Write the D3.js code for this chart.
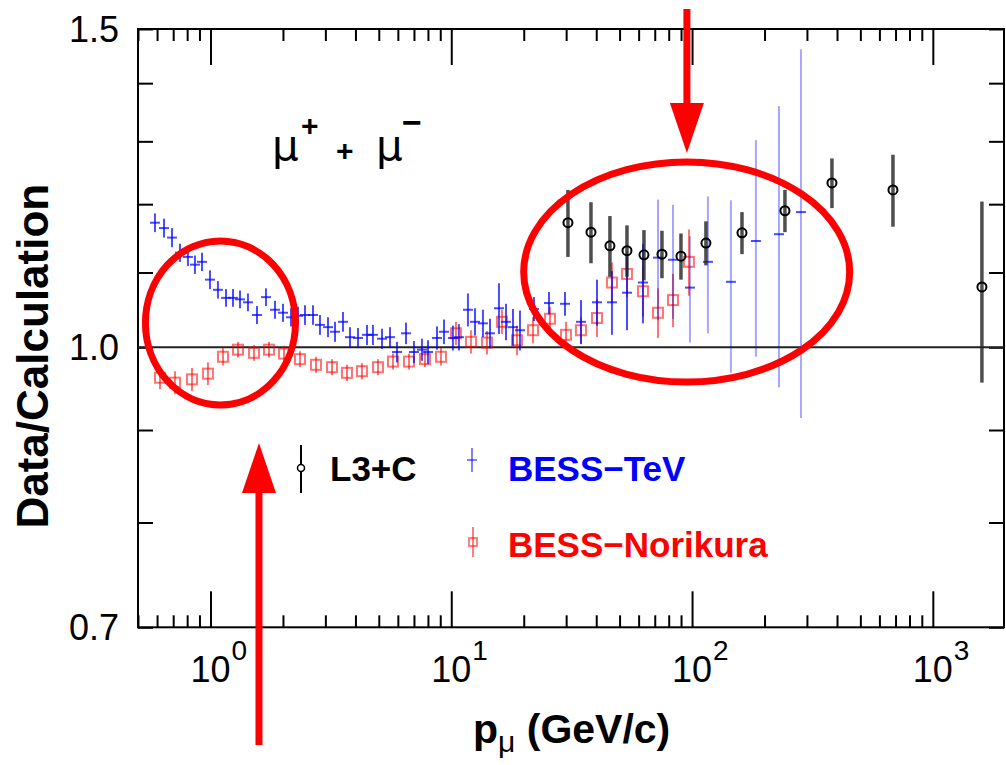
<!DOCTYPE html>
<html>
<head>
<meta charset="utf-8">
<script src="https://cdn.jsdelivr.net/npm/d3@7"></script>
<style>
  body { margin: 0; background: #fff; }
  svg { display: block; font-family: "Liberation Sans", Arial, Helvetica, sans-serif; }
</style>
</head>
<body>
<svg id="chart" width="1006" height="765"></svg>
<script>
// BESS-TeV (momentum GeV/c, ratio, error)
const bessTevP = [0.588, 0.641, 0.692, 0.747, 0.806, 0.862, 0.922, 0.995, 1.074, 1.160, 1.240, 1.326, 1.431, 1.560, 1.700, 1.853, 2.001, 2.160, 2.309, 2.469, 2.665, 2.849, 3.076, 3.289, 3.550, 3.796, 4.098, 4.467, 4.729, 5.155, 5.567, 5.951, 6.485, 7.000, 7.556, 8.004, 8.725, 9.327, 10.16, 10.76, 11.73, 12.55, 13.54, 14.48, 15.78, 16.88, 18.05, 19.29, 22.06, 25.46, 29.67, 34.57, 40.29, 46.49, 53.67, 62.54, 72.19, 83.33, 98.0, 116.4, 145.0, 184.2, 229.6, 283.3];
const bessTevR = [1.172, 1.164, 1.150, 1.128, 1.122, 1.111, 1.115, 1.090, 1.076, 1.065, 1.065, 1.063, 1.059, 1.042, 1.066, 1.049, 1.045, 1.039, 1.041, 1.042, 1.042, 1.029, 1.026, 1.020, 1.033, 1.013, 1.012, 1.016, 1.016, 1.011, 1.013, 0.994, 1.018, 0.994, 0.997, 0.994, 1.012, 1.020, 1.012, 1.013, 1.049, 1.033, 1.031, 1.018, 1.051, 1.033, 1.026, 1.022, 1.050, 1.058, 1.057, 1.033, 1.059, 1.059, 1.072, 1.086, 1.121, 1.118, 1.079, 1.115, 1.087, 1.145, 1.155, 1.188];
const bessTevE = [0.014, 0.014, 0.014, 0.013, 0.013, 0.013, 0.013, 0.013, 0.012, 0.012, 0.012, 0.012, 0.012, 0.012, 0.012, 0.012, 0.012, 0.012, 0.012, 0.013, 0.013, 0.013, 0.013, 0.013, 0.013, 0.013, 0.013, 0.013, 0.013, 0.013, 0.013, 0.013, 0.014, 0.014, 0.014, 0.015, 0.015, 0.016, 0.016, 0.017, 0.022, 0.018, 0.018, 0.019, 0.034, 0.024, 0.024, 0.026, 0.016, 0.015, 0.016, 0.029, 0.031, 0.043, 0.050, 0.055, 0.086, 0.081, 0.073, 0.097, 0.119, 0.157, 0.205, 0.274];

// BESS-Norikura
const bessNoriP = [0.617, 0.712, 0.838, 0.976, 1.127, 1.301, 1.516, 1.750, 2.020, 2.354, 2.743, 3.196, 3.689, 4.257, 4.962, 5.727, 6.674, 7.779, 9.063, 10.46, 12.07, 14.07, 16.24, 18.75, 21.85, 25.70, 29.95, 34.56, 40.29, 46.49, 53.67, 62.54, 72.19, 83.33, 97.07];
const bessNoriR = [0.962, 0.956, 0.960, 0.967, 0.988, 0.997, 0.993, 0.997, 0.992, 0.985, 0.978, 0.975, 0.968, 0.970, 0.975, 0.982, 0.982, 0.985, 0.988, 1.018, 1.007, 1.006, 1.033, 1.009, 1.022, 1.037, 1.016, 1.022, 1.038, 1.086, 1.098, 1.074, 1.045, 1.062, 1.115];
const bessNoriE = [0.014, 0.014, 0.014, 0.014, 0.011, 0.010, 0.010, 0.010, 0.010, 0.010, 0.010, 0.010, 0.010, 0.010, 0.010, 0.010, 0.010, 0.010, 0.011, 0.015, 0.015, 0.015, 0.016, 0.019, 0.017, 0.016, 0.017, 0.017, 0.025, 0.028, 0.032, 0.034, 0.033, 0.036, 0.047];

// L3+C
const l3cP = [30.52, 38.04, 45.60, 53.67, 63.14, 74.99, 89.94, 114.2, 161.2, 243.1, 381.1, 683.0, 1599];
const l3cR = [1.172, 1.158, 1.138, 1.131, 1.125, 1.126, 1.123, 1.142, 1.157, 1.190, 1.233, 1.222, 1.080];
const l3cE = [0.050, 0.045, 0.044, 0.037, 0.036, 0.034, 0.033, 0.032, 0.031, 0.032, 0.039, 0.056, 0.124];

const yTicks = [0.7, 0.8, 0.9, 1.0, 1.1, 1.2, 1.3, 1.4, 1.5];
const yTickLabels = ["0.7", "1.0", "1.5"];
const xDecades = [1, 10, 100, 1000];
const xDecadeExp = ["0", "1", "2", "3"];

const legendNames = ["L3+C", "BESS\u2212TeV", "BESS\u2212Norikura"];

const svg = d3.select("#chart");
const margin = {left: 138, right: 1004, top: 29, bottom: 627.3};

const x = d3.scaleLog().domain([0.5, 1975]).range([margin.left, margin.right]);
const y = d3.scaleLog().domain([0.7, 1.5]).range([margin.bottom, margin.top]);

const blue = "#0000ff", red = "#ff0000";

// minor ticks on x
const xMinor = [];
[0.1, 1, 10, 100, 1000].forEach(d => {
  for (let k = 2; k <= 9; k++) {
    const v = d * k;
    if (v >= 0.5 && v <= 1975) xMinor.push(v);
  }
});

// axes (ticks pointing inward, on all four sides)
function styleAxis(g) {
  g.select(".domain").remove();
  g.selectAll(".tick line").attr("stroke", "#000").attr("stroke-width", 2);
}
svg.append("g").attr("transform", `translate(0,${margin.bottom})`)
  .call(d3.axisBottom(x).tickValues(xMinor).tickSize(-12).tickFormat("")).call(styleAxis);
svg.append("g").attr("transform", `translate(0,${margin.bottom})`)
  .call(d3.axisBottom(x).tickValues(xDecades).tickSize(-36).tickFormat("")).call(styleAxis);
svg.append("g").attr("transform", `translate(0,${margin.top})`)
  .call(d3.axisTop(x).tickValues(xMinor).tickSize(-12).tickFormat("")).call(styleAxis);
svg.append("g").attr("transform", `translate(0,${margin.top})`)
  .call(d3.axisTop(x).tickValues(xDecades).tickSize(-36).tickFormat("")).call(styleAxis);
svg.append("g").attr("transform", `translate(${margin.left},0)`)
  .call(d3.axisLeft(y).tickValues(yTicks).tickSize(-15).tickFormat("")).call(styleAxis);
svg.append("g").attr("transform", `translate(${margin.right},0)`)
  .call(d3.axisRight(y).tickValues(yTicks).tickSize(-15).tickFormat("")).call(styleAxis);

// frame
svg.append("rect")
  .attr("x", margin.left).attr("y", margin.top)
  .attr("width", margin.right - margin.left).attr("height", margin.bottom - margin.top)
  .attr("fill", "none").attr("stroke", "#000").attr("stroke-width", 2);

// reference line at 1
svg.append("line")
  .attr("x1", margin.left).attr("x2", margin.right)
  .attr("y1", y(1)).attr("y2", y(1))
  .attr("stroke", "#222").attr("stroke-width", 2);

// tick labels
svg.append("g").selectAll("text")
  .data(yTickLabels)
  .join("text")
    .attr("x", margin.left - 19)
    .attr("y", d => y(+d) + 13)
    .attr("text-anchor", "end")
    .attr("font-size", 36)
    .text(d => d);

const xl = svg.append("g").selectAll("g")
  .data(xDecades)
  .join("g")
    .attr("transform", d => `translate(${x(d)},${margin.bottom + 55})`);
xl.append("text")
  .attr("text-anchor", "middle")
  .attr("font-size", 36)
  .text("10");
xl.append("text")
  .attr("x", 21)
  .attr("y", -22)
  .attr("font-size", 28)
  .text((d, i) => xDecadeExp[i]);

// axis titles
svg.append("text")
  .attr("transform", `translate(48,${(margin.top + margin.bottom) / 2 + 28}) rotate(-90)`)
  .attr("text-anchor", "middle")
  .attr("font-size", 44)
  .attr("font-weight", "bold")
  .text("Data/Calculation");

const xt = svg.append("text")
  .attr("x", 473).attr("y", 743)
  .attr("font-size", 41)
  .attr("font-weight", "bold");
xt.append("tspan").text("p");
xt.append("tspan").attr("dy", 9).attr("font-size", 30).attr("font-weight", "normal").text("\u03bc");
xt.append("tspan").attr("dy", -9).text(" (GeV/c)");

// BESS-Norikura (red open squares)
const nori = bessNoriP.map((p, i) => ({p, r: bessNoriR[i], e: bessNoriE[i]}));
const gN = svg.append("g").attr("stroke", red).attr("stroke-opacity", 0.55).attr("fill", "none").attr("stroke-width", 2);
gN.selectAll("line").data(nori).join("line")
  .attr("x1", d => x(d.p)).attr("x2", d => x(d.p))
  .attr("y1", d => y(d.r + d.e)).attr("y2", d => y(d.r - d.e));
gN.selectAll("rect").data(nori).join("rect")
  .attr("x", d => x(d.p) - 5).attr("y", d => y(d.r) - 5)
  .attr("width", 10).attr("height", 10);

// BESS-TeV (blue crosses)
const tev = bessTevP.map((p, i) => ({p, r: bessTevR[i], e: bessTevE[i]}));
const gT = svg.append("g").attr("stroke", blue).attr("stroke-width", 2);
gT.selectAll("line.v").data(tev).join("line").attr("class", "v")
  .attr("stroke-opacity", d => d.e > 0.06 ? 0.35 : 0.7)
  .attr("x1", d => x(d.p)).attr("x2", d => x(d.p))
  .attr("y1", d => y(d.r + d.e)).attr("y2", d => y(d.r - d.e));
gT.selectAll("line.h").data(tev).join("line").attr("class", "h")
  .attr("stroke-opacity", 0.7)
  .attr("x1", d => x(d.p) - 5).attr("x2", d => x(d.p) + 5)
  .attr("y1", d => y(d.r)).attr("y2", d => y(d.r));

// L3+C (black open circles)
const l3c = l3cP.map((p, i) => ({p, r: l3cR[i], e: l3cE[i]}));
const gL = svg.append("g");
gL.selectAll("line").data(l3c).join("line")
  .attr("stroke", "#222").attr("stroke-opacity", 0.8).attr("stroke-width", 3.5)
  .attr("x1", d => x(d.p)).attr("x2", d => x(d.p))
  .attr("y1", d => y(d.r + d.e)).attr("y2", d => y(d.r - d.e));
gL.selectAll("circle").data(l3c).join("circle")
  .attr("cx", d => x(d.p)).attr("cy", d => y(d.r)).attr("r", 4.5)
  .attr("fill", "none").attr("stroke", "#000").attr("stroke-width", 2);

// mu+ + mu- label
const mu = svg.append("g").attr("fill", "#000");
mu.append("text").attr("x", 272).attr("y", 160).attr("font-size", 42).attr("font-family", "DejaVu Sans").text("\u03bc");
mu.append("text").attr("x", 301).attr("y", 136).attr("font-size", 30).attr("font-weight", "bold").text("+");
mu.append("text").attr("x", 336).attr("y", 161).attr("font-size", 30).attr("font-weight", "bold").text("+");
mu.append("text").attr("x", 376).attr("y", 160).attr("font-size", 42).attr("font-family", "DejaVu Sans").text("\u03bc");
mu.append("text").attr("x", 402).attr("y", 134).attr("font-size", 34).attr("font-weight", "bold").text("\u2212");

// legend
const leg = svg.append("g");
leg.append("line").attr("x1", 301).attr("x2", 301).attr("y1", 445).attr("y2", 493)
  .attr("stroke", "#000").attr("stroke-width", 2);
leg.append("circle").attr("cx", 301).attr("cy", 468).attr("r", 3.5)
  .attr("fill", "#fff").attr("stroke", "#000").attr("stroke-width", 1.5);
leg.append("line").attr("x1", 472).attr("x2", 472).attr("y1", 448).attr("y2", 472)
  .attr("stroke", blue).attr("stroke-opacity", 0.5).attr("stroke-width", 2);
leg.append("line").attr("x1", 467).attr("x2", 477).attr("y1", 460).attr("y2", 460)
  .attr("stroke", blue).attr("stroke-opacity", 0.5).attr("stroke-width", 2);
leg.append("line").attr("x1", 473).attr("x2", 473).attr("y1", 527).attr("y2", 557)
  .attr("stroke", red).attr("stroke-opacity", 0.5).attr("stroke-width", 2);
leg.append("rect").attr("x", 469).attr("y", 538).attr("width", 8).attr("height", 8)
  .attr("fill", "none").attr("stroke", red).attr("stroke-opacity", 0.5).attr("stroke-width", 2);
leg.selectAll("text").data(legendNames).join("text")
  .attr("x", (d, i) => i === 0 ? 330 : 508)
  .attr("y", (d, i) => i === 2 ? 557 : 481)
  .attr("font-size", 35).attr("font-weight", "bold")
  .attr("fill", (d, i) => [ "#000", blue, red ][i])
  .text(d => d);

// annotations: circles and arrows
const ann = svg.append("g").attr("fill", "none").attr("stroke", red).attr("stroke-width", 7);
ann.append("ellipse").attr("cx", x(1.10)).attr("cy", y(1.0315)).attr("rx", 75).attr("ry", 82);
ann.append("ellipse").attr("cx", x(95.0)).attr("cy", y(1.1007)).attr("rx", 163).attr("ry", 110);

function arrow(xp, yTail, yTip) {
  const dir = yTip > yTail ? 1 : -1;
  const xa = x(xp);
  svg.append("line").attr("x1", xa).attr("x2", xa)
    .attr("y1", yTail).attr("y2", yTip - dir * 48)
    .attr("stroke", red).attr("stroke-width", 7);
  svg.append("path")
    .attr("d", `M${xa - 17},${yTip - dir * 50}L${xa + 17},${yTip - dir * 50}L${xa},${yTip}Z`)
    .attr("fill", red);
}
arrow(95.2, 9, 153);
arrow(1.59, 745, 443);
</script>
</body>
</html>
